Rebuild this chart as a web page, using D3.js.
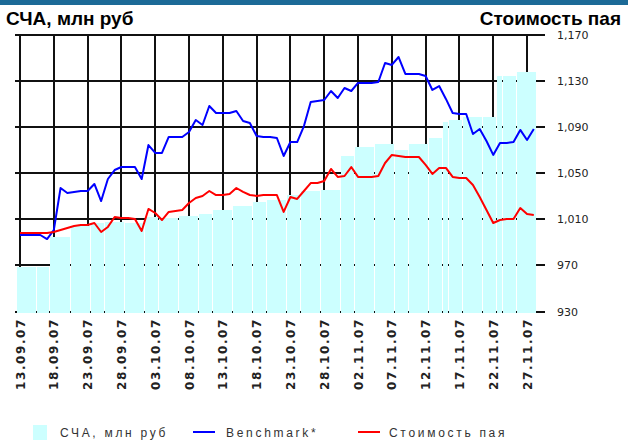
<!DOCTYPE html>
<html>
<head>
<meta charset="utf-8">
<script src="https://cdn.jsdelivr.net/npm/d3@7"></script>
<style>
  body { margin: 0; background: #fff; }
  svg { display: block; }
  .title { font-family: "Liberation Sans", Arial, sans-serif; font-weight: bold; font-size: 19px; fill: #000; }
  .xlab { font-family: "DejaVu Sans", sans-serif; font-weight: bold; font-size: 12px; fill: #222; letter-spacing: 1.6px; }
  .ylab { font-family: "DejaVu Sans", sans-serif; font-size: 11px; fill: #222; }
  .legend { font-family: "Liberation Sans", Arial, sans-serif; font-size: 12px; fill: #333; letter-spacing: 2.7px; }
</style>
</head>
<body>
<div class="svg-container"></div>
<script>
var width = 628;
var height = 445;

// daily series, starting 13.09.2007
var startDay = "13.09.2007";

var benchmark = [996.4, 996.4, 996.4, 996.4, 992.9, 1000.7, 1037.2, 1032.9, 1033.8, 1034.6,
                 1034.6, 1040.7, 1025.9, 1045.0, 1052.8, 1055.4, 1055.4, 1055.4, 1045.0, 1074.5,
                 1067.6, 1067.6, 1081.5, 1081.5, 1081.5, 1085.8, 1096.2, 1091.9, 1108.4, 1102.3,
                 1102.3, 1102.3, 1104.0, 1095.4, 1093.6, 1082.3, 1081.5, 1081.5, 1080.6, 1065.0,
                 1077.1, 1077.1, 1091.0, 1111.9, 1112.7, 1113.6, 1121.4, 1115.3, 1124.0, 1121.4,
                 1128.4, 1128.4, 1128.4, 1129.2, 1145.7, 1144.0, 1150.9, 1136.2, 1136.2, 1136.2,
                 1134.4, 1122.3, 1125.7, 1114.5, 1102.3, 1101.4, 1101.4, 1084.1, 1088.4, 1078.0,
                 1065.9, 1076.3, 1076.3, 1077.1, 1087.6, 1078.9, 1088.4];

var unitPrice = [998.1, 998.1, 998.1, 998.1, 998.1, 999.0, 1000.7, 1002.5, 1004.2, 1005.1,
                 1005.1, 1006.8, 999.0, 1003.4, 1012.0, 1011.2, 1011.2, 1010.3, 999.9, 1019.0,
                 1015.5, 1009.4, 1016.4, 1017.2, 1018.1, 1024.2, 1028.5, 1030.3, 1034.6, 1031.1,
                 1031.1, 1032.0, 1037.2, 1033.8, 1031.1, 1030.3, 1031.1, 1031.1, 1031.1, 1016.4,
                 1029.4, 1027.7, 1034.6, 1041.5, 1041.5, 1043.3, 1053.7, 1046.8, 1047.6, 1055.4,
                 1046.8, 1046.8, 1046.8, 1047.6, 1058.9, 1065.9, 1065.0, 1064.1, 1064.1, 1064.1,
                 1057.2, 1049.4, 1054.6, 1054.6, 1046.8, 1045.9, 1045.9, 1039.8, 1029.4, 1018.1,
                 1006.8, 1009.4, 1010.3, 1010.3, 1019.8, 1014.6, 1013.8];

// net asset value bars (start date of each bar)
var navDates = ["13.09.2007", "16.09.2007", "18.09.2007", "21.09.2007", "24.09.2007", "26.09.2007",
                "29.09.2007", "02.10.2007", "04.10.2007", "07.10.2007", "10.10.2007", "12.10.2007",
                "15.10.2007", "18.10.2007", "20.10.2007", "23.10.2007", "25.10.2007", "28.10.2007",
                "31.10.2007", "02.11.2007", "05.11.2007", "08.11.2007", "10.11.2007", "13.11.2007",
                "15.11.2007", "16.11.2007", "18.11.2007", "21.11.2007", "23.11.2007", "24.11.2007",
                "26.11.2007"];
var navValues = [968.6, 968.6, 994.7, 1004.2, 1006.4, 1007.3,
                 1006.4, 1011.6, 1011.2, 1012.5, 1014.6, 1017.7,
                 1021.6, 1025.0, 1027.2, 1031.1, 1034.6, 1035.5,
                 1065.0, 1072.8, 1075.4, 1070.0, 1075.4, 1080.6,
                 1094.5, 1096.2, 1098.8, 1099.0, 1134.4, 1134.4,
                 1137.9];
var navEnd = "29.11.2007";

var tickLabels = ["13.09.07", "18.09.07", "23.09.07", "28.09.07", "03.10.07", "08.10.07",
                  "13.10.07", "18.10.07", "23.10.07", "28.10.07", "02.11.07", "07.11.07",
                  "12.11.07", "17.11.07", "22.11.07", "27.11.07"];
var yTicks = [930, 970, 1010, 1050, 1090, 1130, 1170];

var parseDay = d3.timeParse("%d.%m.%Y");
var parseTick = d3.timeParse("%d.%m.%y");
var formatComma = d3.format(",");

var day0 = parseDay(startDay);
var days = benchmark.map(function(d, i) { return d3.timeDay.offset(day0, i); });

var scaleX = d3.scaleTime()
               .domain([day0, d3.timeDay.offset(day0, 76)])
               .range([20, 533.8]);

var scaleY = d3.scaleLinear()
               .domain([930, 1170])
               .range([311.5, 35]);

var svg = d3.select(".svg-container").append("svg")
            .attr("width", width)
            .attr("height", height);

// top band
svg.append("rect")
   .attr("x", 0).attr("y", 0)
   .attr("width", width).attr("height", 5)
   .attr("fill", "#1c6a97");

svg.append("text").attr("class", "title")
   .attr("x", 6).attr("y", 25)
   .text("СЧА, млн руб");

svg.append("text").attr("class", "title")
   .attr("x", 621).attr("y", 25)
   .attr("text-anchor", "end")
   .text("Стоимость пая");

// grid
var grid = svg.append("g").attr("class", "grid")
              .attr("stroke", "#111")
              .attr("stroke-width", 2)
              .attr("shape-rendering", "crispEdges");

grid.selectAll(".hline")
    .data(yTicks)
    .enter()
    .append("line")
      .attr("x1", 15)
      .attr("x2", 545)
      .attr("y1", function(d) { return Math.round(scaleY(d)); })
      .attr("y2", function(d) { return Math.round(scaleY(d)); });

grid.selectAll(".vline")
    .data(tickLabels)
    .enter()
    .append("line")
      .attr("x1", function(d) { return Math.round(scaleX(parseTick(d))); })
      .attr("x2", function(d) { return Math.round(scaleX(parseTick(d))); })
      .attr("y1", scaleY(1170))
      .attr("y2", scaleY(930));

// bars
var halfDay = function(s) { return d3.timeHour.offset(parseDay(s), -12); };

svg.append("g")
   .attr("class", "bars")
   .selectAll("rect")
   .data(navValues)
   .enter()
   .append("rect")
     .attr("x", function(d, i) { return Math.round(scaleX(halfDay(navDates[i]))); })
     .attr("width", function(d, i) {
        var next = i < navDates.length - 1 ? navDates[i + 1] : navEnd;
        return Math.round(scaleX(halfDay(next))) - Math.round(scaleX(halfDay(navDates[i]))) - 1;
     })
     .attr("y", function(d) { return Math.round(scaleY(d)); })
     .attr("height", function(d) { return Math.round(scaleY(930)) + 1 - Math.round(scaleY(d)); })
     .attr("fill", "#ccffff");

// lines
function drawLine(values, stroke) {
    var valueline = d3.line()
                      .x(function(d, i) { return scaleX(days[i]); })
                      .y(function(d) { return scaleY(d); });

    svg.append("path")
       .datum(values)
       .attr("fill", "none")
       .attr("stroke", stroke)
       .attr("stroke-width", 2)
       .attr("stroke-linejoin", "round")
       .attr("d", valueline);
}

drawLine(benchmark, "#0000ff");
drawLine(unitPrice, "#ff0000");

// axis labels
svg.append("g")
   .selectAll("text")
   .data(yTicks)
   .enter()
   .append("text")
     .attr("class", "ylab")
     .attr("x", 557)
     .attr("y", function(d) { return scaleY(d) + 4; })
     .text(function(d) { return formatComma(d); });

svg.append("g")
   .selectAll("text")
   .data(tickLabels)
   .enter()
   .append("text")
     .attr("class", "xlab")
     .attr("text-anchor", "end")
     .attr("transform", function(d) {
        return "translate(" + (scaleX(parseTick(d)) + 4.5) + ",318) rotate(-90)";
     })
     .text(function(d) { return d; });

// legend
var legend = svg.append("g").attr("class", "legend-group");

legend.append("rect")
      .attr("x", 33).attr("y", 425)
      .attr("width", 14).attr("height", 15)
      .attr("fill", "#ccffff");
legend.append("text").attr("class", "legend")
      .attr("x", 60).attr("y", 437)
      .text("СЧА, млн руб");

legend.append("line")
      .attr("x1", 193).attr("x2", 215)
      .attr("y1", 432).attr("y2", 432)
      .attr("stroke", "#0000ff").attr("stroke-width", 2);
legend.append("text").attr("class", "legend")
      .attr("x", 226).attr("y", 437)
      .text("Benchmark*");

legend.append("line")
      .attr("x1", 358).attr("x2", 380)
      .attr("y1", 432).attr("y2", 432)
      .attr("stroke", "#ff0000").attr("stroke-width", 2);
legend.append("text").attr("class", "legend")
      .attr("x", 389).attr("y", 437)
      .text("Стоимость пая");
</script>
</body>
</html>
